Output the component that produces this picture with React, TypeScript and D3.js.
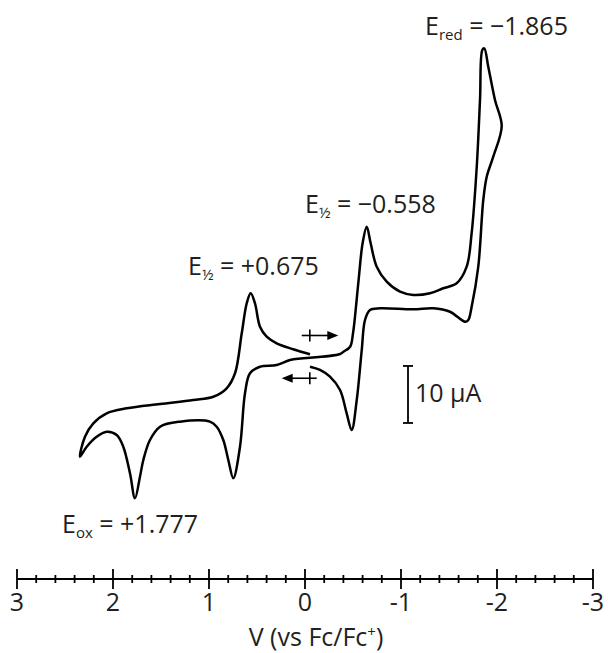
import React from "react";
import * as d3 from "d3";

// Potential (V vs Fc/Fc+) and current (µA, cathodic up) pairs
const scanNegative: [number, number][] = [
  [-0.052, 0.4], [-0.365, 1.05], [-0.40, 1.46], [-0.47, 2.33], [-0.50, 4.68],
  [-0.555, 13.46], [-0.60, 20.47], [-0.643, 23.39], [-0.684, 20.47], [-0.747, 16.37],
  [-0.851, 13.74], [-0.99, 11.98], [-1.128, 11.4], [-1.302, 11.7], [-1.44, 12.58],
  [-1.58, 13.46], [-1.684, 16.37], [-1.736, 22.28], [-1.789, 33.91], [-1.823, 45.61],
  [-1.847, 54.39], [-1.868, 54.68], [-1.909, 51.46], [-1.979, 45.61], [-2.049, 41.05],
  [-1.961, 35.67], [-1.893, 32.16], [-1.857, 28.07], [-1.805, 16.37], [-1.736, 9.35],
  [-1.701, 7.02], [-1.667, 6.72], [-1.51, 8.47], [-1.336, 9.07], [-1.128, 8.89],
  [-0.781, 9.07], [-0.677, 8.77], [-0.625, 7.02], [-0.591, 1.75], [-0.539, -7.02],
  [-0.486, -12.28], [-0.434, -9.35], [-0.365, -5.26], [-0.26, -2.93], [-0.156, -1.75],
  [-0.052, -1.18],
];

const scanPositive: [number, number][] = [
  [-0.052, 0.4], [0.156, 0], [0.295, -0.88], [0.469, -1.18], [0.573, -2.33],
  [0.625, -5.84], [0.677, -15.21], [0.747, -20.75], [0.799, -17.54], [0.851, -14.04],
  [0.92, -11.7], [0.99, -10.82], [1.302, -10.82], [1.51, -11.7], [1.615, -14.04],
  [1.684, -17.54], [1.719, -20.47], [1.771, -24.26], [1.823, -19.88], [1.893, -15.21],
  [1.961, -13.16], [2.066, -12.58], [2.17, -13.46], [2.274, -15.21], [2.344, -16.96],
  [2.292, -13.46], [2.205, -11.11], [2.066, -9.35], [1.857, -8.47], [1.51, -7.72],
  [1.164, -7.02], [0.955, -6.44], [0.816, -4.96], [0.729, -2.33], [0.659, 4.68],
  [0.607, 9.95], [0.566, 11.7], [0.521, 9.95], [0.469, 5.84], [0.399, 4.09],
  [0.295, 2.93], [0.122, 1.88], [-0.052, 1.0],
];

const majorTicks = [3, 2, 1, 0, -1, -2, -3];
const tickLabels = ["3", "2", "1", "0", "-1", "-2", "-3"];
const minorTicks = d3.range(-30, 31, 2).map((d) => d / 10).filter((d) => Math.abs(d - Math.round(d)) > 1e-6);

const startPotential = -0.05;
const scaleBarCurrent = 10;

const INK = "#231f20";
const FONT = "'Open Sans', sans-serif";

export default function App() {
  const W = 608, H = 653;
  const x = d3.scaleLinear().domain([3, -3]).range([17, 593]);
  const y = d3.scaleLinear().domain([0, 10]).range([360, 303]);
  const line = d3
    .line<[number, number]>()
    .x((d) => x(d[0]))
    .y((d) => y(d[1]))
    .curve(d3.curveCatmullRom.alpha(0.5));

  const axisY = 579;

  // arrows
  const upY = y(4.3);
  const loY = y(-3.2);
  const upX1 = x(0.034), upX2 = x(-0.347);
  const loX1 = x(0.243), loX2 = x(-0.122);
  const tickX = x(startPotential);

  const sbX = x(-1.073);
  const sbTop = y(-1.05);
  const sbBot = y(-1.05 - scaleBarCurrent);

  return (
    <svg width={W} height={H} style={{ position: "absolute", left: 0, top: 0, background: "#fff" }} fontFamily={FONT}>
      <rect width={W} height={H} fill="#fff" />
      <path d={line(scanNegative) || ""} fill="none" stroke="#000" strokeWidth={2.5} strokeLinejoin="round" />
      <path d={line(scanPositive) || ""} fill="none" stroke="#000" strokeWidth={2.5} strokeLinejoin="round" />

      {/* scan direction arrows */}
      <g stroke="#000" strokeWidth={1.6}>
        <line x1={upX1} y1={upY} x2={upX2 - 8} y2={upY} />
        <line x1={tickX} y1={upY - 6} x2={tickX} y2={upY + 6} />
        <line x1={loX1 + 8} y1={loY} x2={loX2} y2={loY} />
        <line x1={tickX} y1={loY - 6} x2={tickX} y2={loY + 6} />
      </g>
      <path d={`M${upX2},${upY} L${upX2 - 11},${upY - 4.5} L${upX2 - 11},${upY + 4.5} Z`} fill="#000" />
      <path d={`M${loX1},${loY} L${loX1 + 11},${loY - 4.5} L${loX1 + 11},${loY + 4.5} Z`} fill="#000" />

      {/* scale bar */}
      <g stroke="#000" strokeWidth={1.8}>
        <line x1={sbX} y1={sbTop} x2={sbX} y2={sbBot} />
        <line x1={sbX - 5} y1={sbTop} x2={sbX + 5} y2={sbTop} />
        <line x1={sbX - 5} y1={sbBot} x2={sbX + 5} y2={sbBot} />
      </g>
      <text x={sbX + 7} y={402} fontSize={25} fill={INK}>10 µA</text>

      {/* annotations */}
      <text x={425} y={35} fontSize={25} fill={INK}>
        E<tspan fontSize={15} dy={5}>red</tspan><tspan dy={-5}> = −1.865</tspan>
      </text>
      <text x={305} y={213} fontSize={25} fill={INK}>
        E<tspan fontSize={15} dy={5}>½</tspan><tspan dy={-5}> = −0.558</tspan>
      </text>
      <text x={188} y={275} fontSize={25} fill={INK}>
        E<tspan fontSize={15} dy={5}>½</tspan><tspan dy={-5}> = +0.675</tspan>
      </text>
      <text x={62} y={533} fontSize={25} fill={INK}>
        E<tspan fontSize={15} dy={5}>ox</tspan><tspan dy={-5}> = +1.777</tspan>
      </text>

      {/* x axis */}
      <g stroke="#000" strokeWidth={1.8}>
        <line x1={x(3)} y1={axisY} x2={x(-3)} y2={axisY} />
        {majorTicks.map((t) => (
          <line key={"M" + t} x1={x(t)} x2={x(t)} y1={axisY - 10} y2={axisY + 10} />
        ))}
        {minorTicks.map((t) => (
          <line key={"m" + t} x1={x(t)} x2={x(t)} y1={axisY - 4} y2={axisY + 4} />
        ))}
      </g>
      {majorTicks.map((t, i) => (
        <text key={"L" + t} x={x(t)} y={611} fontSize={25} fill={INK} textAnchor="middle">
          {tickLabels[i]}
        </text>
      ))}
      <text x={316} y={646} fontSize={25} fill={INK} textAnchor="middle">
        V (vs Fc/Fc<tspan fontSize={15} dy={-9}>+</tspan><tspan dy={9}>)</tspan>
      </text>
    </svg>
  );
}
